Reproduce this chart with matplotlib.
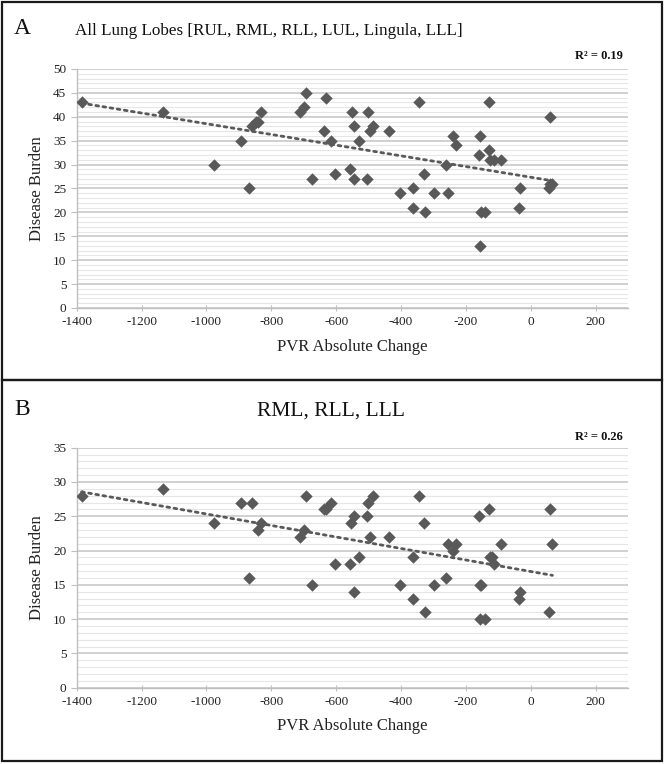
import numpy as np
import matplotlib
matplotlib.use("Agg")
import matplotlib.pyplot as plt
from matplotlib.patches import Rectangle
from matplotlib.ticker import MultipleLocator

plt.rcParams['font.family'] = ['Liberation Serif', 'DejaVu Serif']
plt.rcParams['axes.unicode_minus'] = False

# Panel A: all lung lobes
pvr_a = [-1385, -1135, -977, -894, -869, -858, -848, -842, -833, -711, -700, -692,
         -675, -636, -631, -617, -605, -557, -552, -546, -546, -529, -505, -502,
         -497, -485, -436, -404, -363, -363, -343, -328, -326, -297, -262, -256,
         -239, -231, -157, -158, -155, -153, -142, -128, -128, -124, -114, -91,
         -35, -33, 58, 55, 61, 67]
burden_a = [43, 41, 30, 35, 25, 38, 39, 39, 41, 41, 42, 45,
            27, 37, 44, 35, 28, 29, 41, 38, 27, 35, 27, 41,
            37, 38, 37, 24, 25, 21, 43, 28, 20, 24, 30, 24,
            36, 34, 36, 32, 13, 20, 20, 43, 33, 31, 31, 31,
            21, 25, 40, 25, 26, 26]

# Panel B: RML, RLL, LLL
pvr_b = [-1385, -1135, -977, -894, -869, -858, -841, -833, -711, -700, -692,
         -675, -636, -631, -617, -605, -557, -554, -546, -546, -529, -505, -502,
         -497, -485, -436, -404, -363, -363, -343, -328, -326, -297, -262, -256,
         -239, -231, -158, -157, -153, -155, -142, -128, -126, -120, -114, -91,
         -35, -33, 58, 55, 67]
burden_b = [28, 29, 24, 27, 16, 27, 23, 24, 22, 23, 28,
            15, 26, 26, 27, 18, 18, 24, 25, 14, 19, 25, 27,
            22, 28, 22, 15, 19, 13, 28, 24, 11, 15, 16, 21,
            20, 21, 25, 15, 15, 10, 10, 26, 19, 19, 18, 21,
            13, 14, 26, 11, 21]

titles = ["All Lung Lobes [RUL, RML, RLL, LUL, Lingula, LLL]", "RML, RLL, LLL"]
letters = ["A", "B"]
r2_labels = ["R² = 0.19", "R² = 0.26"]
ymax = [50, 35]

W, H = 665, 764
fig = plt.figure(figsize=(W / 100, H / 100), dpi=100)

def fx(px):
    return px / W

def fy(py):
    return 1 - py / H

# panel boxes
for top, bot in [(2, 380), (380, 761)]:
    fig.patches.append(Rectangle((fx(2), fy(bot)), fx(660), (bot - top) / H,
                                 transform=fig.transFigure, fill=False,
                                 edgecolor='#1a1a1a', linewidth=1.6))

axes_px = [(69, 308), (447.7, 687.7)]
title_y = [31, 411]
title_x = [269, 331]
title_fs = [12.3, 15.5]
letter_y = [29, 409]
r2_y = [56, 437]
xlab_y = [347, 726]
datasets = [(pvr_a, burden_a), (pvr_b, burden_b)]

grey = '#595959'
for i in range(2):
    top, bot = axes_px[i]
    ax = fig.add_axes([fx(76.7), fy(bot), fx(628 - 76.7), (bot - top) / H])
    x = np.array(datasets[i][0], dtype=float)
    y = np.array(datasets[i][1], dtype=float)
    ax.set_xlim(-1400, 300)
    ax.set_ylim(0, ymax[i])
    ax.xaxis.set_major_locator(MultipleLocator(200))
    ax.yaxis.set_major_locator(MultipleLocator(5))
    ax.yaxis.set_minor_locator(MultipleLocator(1))
    ax.grid(axis='y', which='minor', color='#e6e6e6', linewidth=0.8)
    ax.grid(axis='y', which='major', color='#c8c8c8', linewidth=1.2)
    ax.set_axisbelow(True)
    for s in ['top', 'right']:
        ax.spines[s].set_visible(False)
    for s in ['left', 'bottom']:
        ax.spines[s].set_color('#bfbfbf')
        ax.spines[s].set_linewidth(1.0)
    ax.tick_params(axis='both', which='major', labelsize=9.5, colors='#bfbfbf',
                   labelcolor='#222222', length=4, width=0.8)
    ax.tick_params(axis='x', direction='inout', length=5)
    ax.tick_params(axis='y', which='minor', length=0)
    ax.scatter(x, y, marker='D', s=40, color=grey, zorder=3, linewidths=0)
    m, b = np.polyfit(x, y, 1)
    xs = np.array([x.min(), x.max()])
    ax.plot(xs, m * xs + b, linestyle=(0, (1, 1.6)), color=grey, linewidth=2.0,
            dash_capstyle='round', zorder=4)
    ax.set_ylabel("Disease Burden", fontsize=12, color='#222222', labelpad=6)
    fig.text(fx(352), fy(xlab_y[i]), "PVR Absolute Change", fontsize=12,
             ha='center', va='center', color='#222222')
    fig.text(fx(title_x[i]), fy(title_y[i]), titles[i], fontsize=title_fs[i],
             ha='center', va='center', color='#111111')
    fig.text(fx(14), fy(letter_y[i]), letters[i], fontsize=17,
             ha='left', va='center', color='#111111')
    fig.text(fx(623), fy(r2_y[i]), r2_labels[i], fontsize=9, fontweight='bold',
             ha='right', va='center', color='#111111')

fig.savefig("out.png", dpi=100)
